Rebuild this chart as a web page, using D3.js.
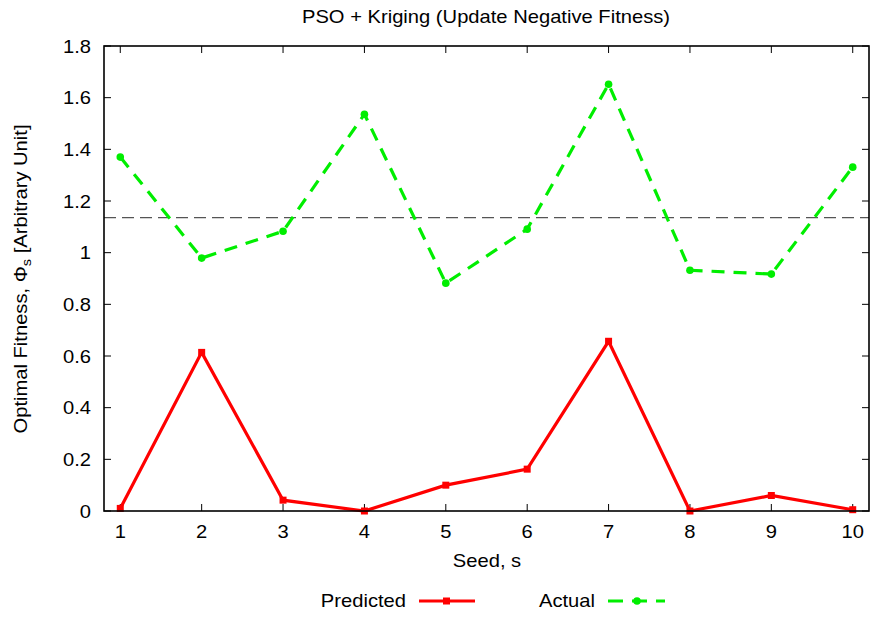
<!DOCTYPE html>
<html><head><meta charset="utf-8">
<script src="https://cdn.jsdelivr.net/npm/d3@7"></script>
<style>body{margin:0;background:#fff}svg{display:block}text{font-family:"Liberation Sans",Arial,sans-serif}</style>
</head><body><svg id="c" width="871" height="617"></svg>
<script>
const seeds = [1,2,3,4,5,6,7,8,9,10];
const predicted = [0.01,0.614,0.042,0.0,0.10,0.162,0.657,0.0,0.06,0.005];
const actual = [1.37,0.979,1.083,1.536,0.882,1.091,1.652,0.932,0.917,1.331];
const refLine = 1.136;
const yTicks = [0,0.2,0.4,0.6,0.8,1,1.2,1.4,1.6,1.8];
const xTicks = [1,2,3,4,5,6,7,8,9,10];

const svg = d3.select("#c");
const L=104, R=869, T=46, B=511;
const FS=18, SX=1.12;
const x = d3.scaleLinear().domain([0.8,10.2]).range([L,R]);
const y = d3.scaleLinear().domain([0,1.8]).range([B,T]);

function label(parent, px, py, str, anchor, rot){
  const gg = parent.append("g").attr("transform",`translate(${px},${py})${rot?` rotate(${rot})`:""} scale(${SX},1)`);
  const t = gg.append("text").attr("text-anchor",anchor||"middle").attr("font-size",FS);
  if (str!=null) t.text(str);
  return t;
}

const g = svg.append("g");
xTicks.forEach(v=>{
  g.append("line").attr("x1",x(v)).attr("x2",x(v)).attr("y1",B).attr("y2",B-7).attr("stroke","#000");
  g.append("line").attr("x1",x(v)).attr("x2",x(v)).attr("y1",T).attr("y2",T+7).attr("stroke","#000");
  label(g, x(v), B+27, String(v), "middle");
});
yTicks.forEach(v=>{
  g.append("line").attr("x1",L).attr("x2",L+7).attr("y1",y(v)).attr("y2",y(v)).attr("stroke","#000");
  g.append("line").attr("x1",R).attr("x2",R-7).attr("y1",y(v)).attr("y2",y(v)).attr("stroke","#000");
  label(g, L-13, y(v)+6.5, d3.format("")(v), "end");
});
g.append("line").attr("x1",L).attr("x2",R).attr("y1",y(refLine)).attr("y2",y(refLine))
  .attr("stroke","#555").attr("stroke-width",1.2).attr("stroke-dasharray","12,6");

const line = d3.line().x((d,i)=>x(seeds[i])).y(d=>y(d));
g.append("path").datum(actual).attr("d",line).attr("fill","none").attr("stroke","#00ee00")
  .attr("stroke-width",3.2).attr("stroke-dasharray","13,9");
g.selectAll(".ac").data(actual).join("circle").attr("cx",(d,i)=>x(seeds[i])).attr("cy",d=>y(d))
  .attr("r",3.8).attr("fill","#00ee00");
g.append("path").datum(predicted).attr("d",line).attr("fill","none").attr("stroke","#ff0000")
  .attr("stroke-width",3.2);
g.selectAll(".pr").data(predicted).join("rect").attr("x",(d,i)=>x(seeds[i])-3.5).attr("y",d=>y(d)-3.5)
  .attr("width",7).attr("height",7).attr("fill","#ff0000");

g.append("rect").attr("x",L).attr("y",T).attr("width",R-L).attr("height",B-T)
  .attr("fill","none").attr("stroke","#000").attr("stroke-width",1.6);

label(svg, 486, 23, "PSO + Kriging (Update Negative Fitness)", "middle");
label(svg, 487, 567, "Seed, s", "middle");
const yl = label(svg, 27, 279, null, "middle", -90);
yl.append("tspan").text("Optimal Fitness, \u03A6");
yl.append("tspan").attr("font-size",13).attr("dy",4).text("s");
yl.append("tspan").attr("dy",-4).text(" [Arbitrary Unit]");

// legend
label(svg, 406, 607, "Predicted", "end");
svg.append("line").attr("x1",419).attr("x2",475).attr("y1",601).attr("y2",601).attr("stroke","#ff0000").attr("stroke-width",3.2);
svg.append("rect").attr("x",443).attr("y",597.5).attr("width",7).attr("height",7).attr("fill","#ff0000");
label(svg, 595, 607, "Actual", "end");
svg.append("line").attr("x1",608).attr("x2",665).attr("y1",601).attr("y2",601).attr("stroke","#00ee00").attr("stroke-width",3.2).attr("stroke-dasharray","15,9");
svg.append("circle").attr("cx",637).attr("cy",601).attr("r",3.8).attr("fill","#00ee00");
</script></body></html>
